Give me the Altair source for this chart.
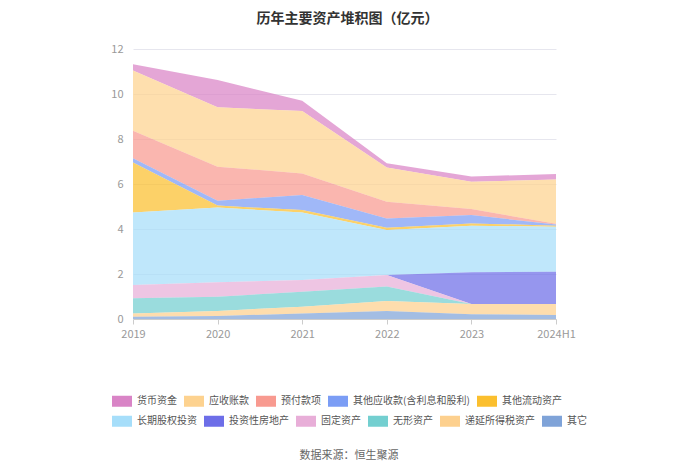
import altair as alt
import pandas as pd

years = ["2019", "2020", "2021", "2022", "2023", "2024H1"]

# stacking order top -> bottom as shown in legend
series = ["货币资金", "应收账款", "预付款项", "其他应收款(含利息和股利)", "其他流动资产",
          "长期股权投资", "投资性房地产", "固定资产", "无形资产", "递延所得税资产", "其它"]
colors = ["#d984c6", "#fdd28f", "#f89a90", "#7b9df5", "#fbbf2e",
          "#a6defa", "#6d6ee8", "#e8aed8", "#73cfd0", "#fdd08e", "#7fa3d8"]

货币资金 = [0.28, 1.21, 0.46, 0.19, 0.23, 0.25]
应收账款 = [2.67, 2.64, 2.77, 1.52, 1.21, 1.97]
预付款项 = [1.23, 1.51, 0.96, 0.74, 0.27, 0.03]
其他应收款 = [0.18, 0.22, 0.67, 0.41, 0.37, 0.05]
其他流动资产 = [2.23, 0.08, 0.11, 0.10, 0.10, 0.05]
长期股权投资 = [3.22, 3.33, 3.00, 2.00, 2.07, 2.00]
投资性房地产 = [0.00, 0.00, 0.00, 0.00, 1.41, 1.43]
固定资产 = [0.59, 0.64, 0.52, 0.52, 0.00, 0.00]
无形资产 = [0.67, 0.63, 0.66, 0.64, 0.00, 0.00]
递延所得税资产 = [0.15, 0.23, 0.30, 0.44, 0.46, 0.49]
其它 = [0.10, 0.13, 0.25, 0.36, 0.21, 0.18]

values = [货币资金, 应收账款, 预付款项, 其他应收款, 其他流动资产, 长期股权投资,
          投资性房地产, 固定资产, 无形资产, 递延所得税资产, 其它]

rows = []
for i, (s, vals) in enumerate(zip(series, values)):
    for y, v in zip(years, vals):
        rows.append({"year": y, "series": s, "value": v, "order": len(series) - i})
df = pd.DataFrame(rows)

group1 = series[:5]
group2 = series[5:]
col1 = colors[:5]
col2 = colors[5:]

font = "Noto Sans CJK SC"
rect_path = "M-1,-0.55L1,-0.55L1,0.55L-1,0.55Z"

x_enc = alt.X("year:O", sort=years, title=None,
              scale=alt.Scale(type="point", padding=0),
              axis=alt.Axis(labelAngle=0, labelColor="#999", labelFontSize=11,
                            labelFont=font, domainColor="#ccc", tickColor="#ccc",
                            tickSize=5, grid=False, labelPadding=4))
y_enc = alt.Y("y1:Q", title=None, scale=alt.Scale(domain=[0, 12]),
              axis=alt.Axis(values=[0, 2, 4, 6, 8, 10, 12], labelColor="#999",
                            labelFontSize=11, labelFont=font, domain=False,
                            ticks=False, gridColor="#e6e6ee", labelPadding=10))


def legend_for(xpos, ypos):
    return alt.Legend(title=None, orient="none", legendX=xpos, legendY=ypos,
                      direction="horizontal", symbolType=rect_path, symbolSize=400,
                      symbolOpacity=1, symbolStrokeWidth=0, labelFont=font,
                      labelFontSize=10, labelColor="#555", columnPadding=7,
                      labelOffset=5)


base = alt.Chart(df).transform_stack(
    stack="value", groupby=["year"], as_=["y0", "y1"],
    sort=[alt.SortField("order", order="ascending")]
)

layer1 = base.transform_filter(
    alt.FieldOneOfPredicate(field="series", oneOf=group1)
).mark_area(fillOpacity=0.72, interpolate="linear").encode(
    x=x_enc, y=y_enc, y2="y0:Q",
    fill=alt.Fill("series:N", scale=alt.Scale(domain=group1, range=col1),
                  legend=legend_for(-21, 342)),
)

layer2 = base.transform_filter(
    alt.FieldOneOfPredicate(field="series", oneOf=group2)
).mark_area(fillOpacity=0.72, interpolate="linear").encode(
    x=x_enc, y=y_enc, y2="y0:Q",
    fill=alt.Fill("series:N", scale=alt.Scale(domain=group2, range=col2),
                  legend=legend_for(-21, 362)),
)

source = alt.Chart(pd.DataFrame({"t": ["数据来源：恒生聚源"]})).mark_text(
    font=font, fontSize=11, color="#666"
).encode(text="t:N", x=alt.value(216), y=alt.value(407))

chart = alt.layer(layer1, layer2, source).resolve_scale(fill="independent").properties(
    width=423, height=270,
    padding={"left": 125, "top": 41, "right": 130, "bottom": 150},
    autosize=alt.AutoSizeParams(type="none"),
    title=alt.TitleParams("历年主要资产堆积图（亿元）", font=font, fontSize=14,
                          fontWeight="bold", color="#333", anchor="middle",
                          offset=17, dx=3),
).configure_view(stroke=None)

chart.save("out.html", embed_options={"renderer": "svg", "actions": False})
